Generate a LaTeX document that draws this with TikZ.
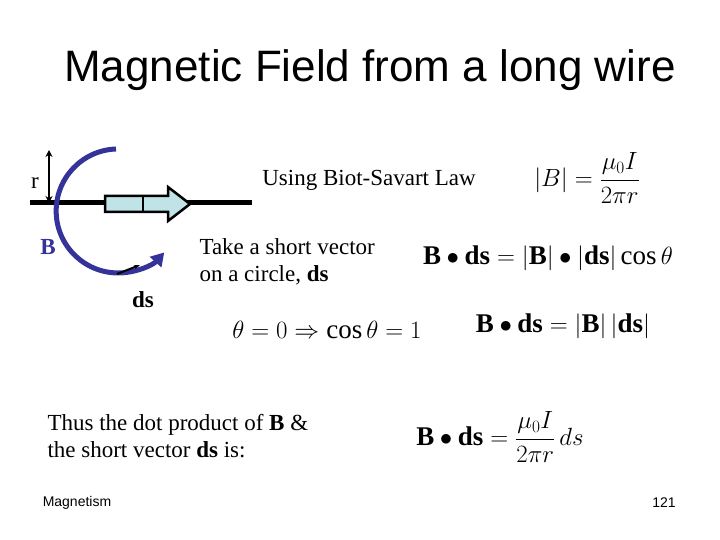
\documentclass[tikz,border=0pt]{standalone}
\usepackage{amsmath}
\usepackage{fontspec}
\setmainfont{Liberation Serif}
\newfontfamily\arialf{Liberation Sans}
\usetikzlibrary{arrows.meta}
\definecolor{bblue}{RGB}{51,51,153}
\definecolor{lblue}{RGB}{191,227,230}
\begin{document}
\begin{tikzpicture}[x=1pt,y=-1pt,
  txt/.style={font=\fontsize{23}{27}\selectfont},
  eq/.style={font=\fontsize{27}{32}\selectfont}]
\useasboundingbox (0,0) rectangle (720,540);
\node (title) at (370,70) {\arialf\fontsize{44}{50}\selectfont Magnetic Field from a long wire};
% wire
\coordinate (w1) at (30,203); \coordinate (w2) at (252,203);
\draw[line width=5pt] (w1) -- (w2);
\draw[line width=2.5pt,fill=lblue] (105,196) -- (168,196) -- (168,187) -- (190,204) -- (168,221) -- (168,212) -- (105,212) -- cycle;
\draw[line width=2.5pt] (143,196) -- (143,212);
% r arrow
\coordinate (r1) at (49,150); \coordinate (r2) at (49,203);
\draw[line width=2pt,{Stealth[length=7pt,width=7pt]}-{Stealth[length=7pt,width=7pt]}] (r1) -- (r2);
\node[txt] (r) at (35,183) {r};
% B arc
\draw[bblue,line width=5pt,-{Triangle[length=13pt,width=15pt]}] (116,149) arc[start angle=-92,end angle=-318,radius=62];
\coordinate (d1) at (117,274); \coordinate (d2) at (140,265);
\draw[line width=2pt,-{Stealth[length=6pt]}] (d1) -- (d2);
\node[txt,bblue,font=\fontsize{23}{27}\selectfont\bfseries] (B) at (48,247) {B};
\node[txt] (ds) at (143,300) {\textbf{ds}};
\node[txt] (biot) at (369,180) {Using Biot-Savart Law};
\node[txt,align=left,anchor=west] (take) at (196,262) {Take a short vector\\on a circle, \textbf{ds}};
\node[eq] (e1) at (587,178) {$\left|B\right| = \dfrac{\mu_0 I}{2\pi r}$};
\node[eq] (e2) at (548,258) {$\mathbf{B}\bullet\mathbf{ds}=\left|\mathbf{B}\right|\bullet\left|\mathbf{ds}\right|\cos\theta$};
\node[eq] (e3) at (327,330) {$\theta=0\Rightarrow\cos\theta=1$};
\node[eq] (e4) at (563,326) {$\mathbf{B}\bullet\mathbf{ds}=\left|\mathbf{B}\right|\left|\mathbf{ds}\right|$};
\node[txt,align=left,anchor=west] (thus) at (44,436) {Thus the dot product of \textbf{B} \&\\the short vector \textbf{ds} is:};
\node[eq] (e5) at (500,437) {$\mathbf{B}\bullet\mathbf{ds}=\dfrac{\mu_0 I}{2\pi r}\,ds$};
\node (mag) at (77,503) {\arialf\fontsize{14}{16}\selectfont Magnetism};
\node (num) at (664,503) {\arialf\fontsize{14}{16}\selectfont 121};
\end{tikzpicture}
\end{document}
